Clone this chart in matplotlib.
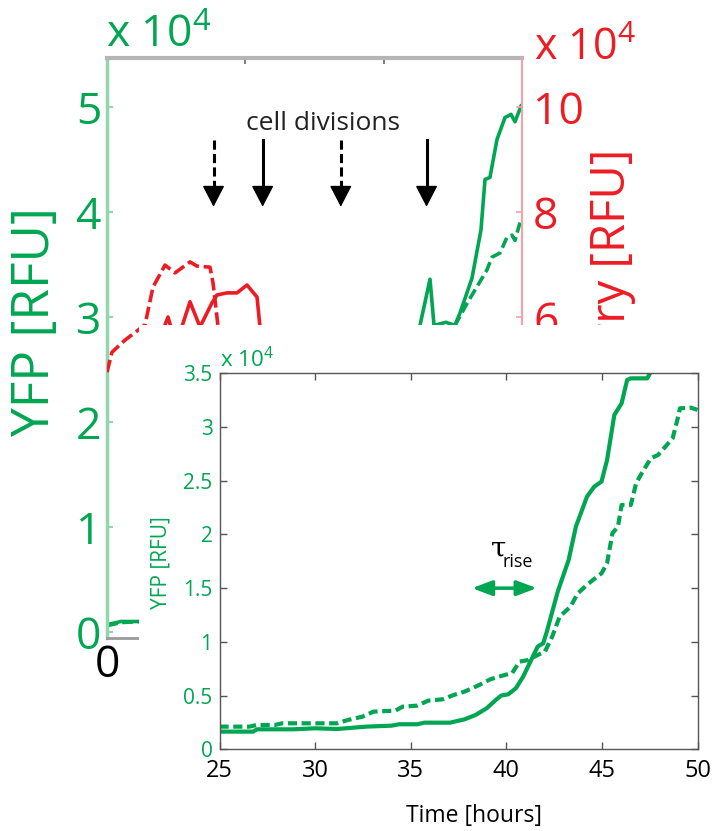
import matplotlib.pyplot as plt
from matplotlib.patches import Rectangle
from matplotlib.ticker import FuncFormatter

plt.rcParams['font.family'] = ['Open Sans', 'DejaVu Sans']
plt.rcParams['mathtext.fontset'] = 'custom'
plt.rcParams['mathtext.rm'] = 'Open Sans'
plt.rcParams['mathtext.default'] = 'regular'

GREEN = '#00a651'
RED = '#ed1c24'

# full experiment, time in hours, fluorescence in units of 10^4 RFU
yfp_t = [0, 2, 5, 20, 40, 44.5, 45.25, 46.7, 47.28, 49.01, 50.31, 51.04, 52.77,
         54.07, 54.65, 55.37, 56.38, 57.54, 58.41, 58.99, 59.86]
yfp_solid = [0.07, 0.1, 0.1, 0.2, 0.8, 2.5, 2.92, 3.36, 2.92, 2.95, 2.92, 3.04, 3.37,
             3.83, 4.31, 4.33, 4.69, 4.90, 4.93, 4.86, 5.01]
yfp_d_t = [0, 2, 5, 20, 40, 48, 50.31, 52.05, 53.5, 54.94, 55.66, 56.82, 57.83,
           58.55, 58.99, 59.71]
yfp_dashed = [0.06, 0.09, 0.1, 0.25, 1.0, 2.4, 2.92, 3.13, 3.29, 3.45, 3.57, 3.61, 3.76,
              3.78, 3.73, 3.90]

mch_d_t = [0, 0.72, 2.6, 5.49, 6.65, 8.39, 9.83, 12.0, 13.01, 14.89, 15.33, 15.9,
           16.19, 17.06]
mch_dashed = [4.95, 5.33, 5.56, 5.85, 6.57, 6.99, 6.84, 7.05, 6.97, 6.95, 6.65, 6.0,
              5.66, 4.80]
mch_s_t = [6.22, 8.1, 8.82, 9.98, 12.0, 13.45, 14.46, 15.18, 15.9, 17.35, 18.8, 20.24,
           21.69, 22.12, 22.55]
mch_solid = [5.18, 5.75, 6.0, 5.47, 6.29, 5.81, 6.08, 6.27, 6.42, 6.46, 6.46, 6.61,
             6.38, 5.81, 5.18]

div_dashed = [15.4, 33.8]
div_solid = [22.5, 46.2]

# onset of YFP rise, RFU
rise_s_t = [25, 26.76, 26.95, 28.85, 30, 31.15, 32.67, 34.0, 34.39, 35.34, 35.72, 37.06,
            37.82, 38.4, 38.97, 39.45, 39.73, 40.1, 40.5, 40.88, 41.26, 41.64, 41.93,
            42.12, 42.69, 43.26, 43.64, 44.22, 44.6, 44.98, 45.27, 45.65, 46.03, 46.32,
            46.51, 47.37, 47.56, 47.9]
rise_solid = [1645, 1645, 1860, 1860, 1955, 1890, 2110, 2200, 2330, 2330, 2480, 2480,
              2790, 3200, 3815, 4590, 5000, 5120, 5680, 6760, 8160, 9560, 9870,
              10950, 14680, 17620, 20730, 23520, 24450, 24920, 26930, 31120, 32200, 34380,
              34530, 34530, 35150, 36500]
rise_d_t = [25, 26.56, 26.95, 27.9, 28.28, 31.15, 31.72, 32.48, 33.05, 34.2, 34.58, 35.34,
            35.92, 36.68, 37.25, 37.82, 38.59, 39.16, 39.92, 40.3, 40.69, 41.16, 41.64,
            42.02, 42.4, 42.79, 43.36, 43.74, 44.31, 44.98, 45.27, 45.55, 45.84, 46.03,
            46.51, 46.79, 47.08, 47.56, 47.94, 48.32, 48.7, 48.99, 49.08, 49.66, 50]
rise_dashed = [2110, 2110, 2265, 2265, 2420, 2420, 2730, 3040, 3505, 3600, 3970, 4065,
               4530, 4655, 5060, 5370, 5990, 6515, 6920, 7075, 8160, 8315, 8780,
               9090, 10490, 12350, 13280, 14520, 15450, 16380, 17310, 20110, 20730, 22740,
               22740, 24760, 25690, 27090, 27400, 28170, 28950, 30970, 31740, 31800, 31590]

W, H = 712, 831
fig = plt.figure(figsize=(W / 100, H / 100), dpi=100)


def fx(x):
    return x / W


def fy(y):
    return 1 - y / H


# ---- background: whole time course ----
ax = fig.add_axes([fx(107), fy(638), (522 - 107) / W, (638 - 58) / H])
ax2 = ax.twinx()

ax.plot(yfp_t, yfp_solid, color=GREEN, lw=2.6)
ax.plot(yfp_d_t, yfp_dashed, color=GREEN, lw=2.6, ls=(0, (3, 1.3)))
ax2.plot(mch_s_t, mch_solid, color=RED, lw=2.6)
ax2.plot(mch_d_t, mch_dashed, color=RED, lw=2.6, ls=(0, (3.5, 1.3)))

ax.set_xlim(0, 60)
ax.set_ylim(-0.057, 5.467)
ax2.set_ylim(-0.114, 10.934)
ax.set_xticks([0, 20, 40, 60], ['0', '', '', ''])
ax.set_yticks(range(6))
ax2.set_yticks(range(0, 11, 2), ['', '', '', '6', '8', '10'])

ax.spines['right'].set_visible(False)
for s in ['left', 'top', 'bottom']:
    ax2.spines[s].set_visible(False)
ax.spines['left'].set_color('#93d6ab')
ax.spines['left'].set_linewidth(2.5)
ax.spines['top'].set_color('#b5b5b5')
ax.spines['top'].set_linewidth(3)
ax.spines['bottom'].set_color('#9a9a9a')
ax.spines['bottom'].set_linewidth(2)
ax2.spines['right'].set_color('#f7a1a6')
ax2.spines['right'].set_linewidth(1.5)

ax.tick_params(axis='y', direction='in', length=4, width=1.5, color='#93d6ab',
               labelcolor=GREEN, labelsize=32, pad=4)
ax.tick_params(axis='x', direction='in', top=True, length=4, width=1.2, color='#666666',
               labelsize=32, pad=4)
ax2.tick_params(axis='y', direction='in', length=4, width=1.2, color='#f7a1a6',
                labelcolor=RED, labelsize=32, pad=8)

fig.text(fx(36), fy(322), 'YFP [RFU]', rotation=90, ha='center', va='center',
         color=GREEN, fontsize=37)
fig.text(fx(612), fy(310), 'mCherry [RFU]', rotation=90, ha='center', va='center',
         color=RED, fontsize=34, zorder=0.5)
fig.text(fx(106), fy(48), r'x 10$^4$', ha='left', va='baseline', color=GREEN, fontsize=32)
fig.text(fx(534), fy(60), r'x 10$^4$', ha='left', va='baseline', color=RED, fontsize=31)

# cell division markers
fig.text(fx(323), fy(130), 'cell divisions', ha='center', va='baseline', fontsize=19,
         color='#222222')
y_top, y_tip, head = 4.69, 4.05, 0.17
for t in div_dashed + div_solid:
    ls = (0, (3, 1.4)) if t in div_dashed else '-'
    ax.plot([t, t], [y_top, y_tip + head], color='black', lw=2.2, ls=ls)
    ax.annotate('', xy=(t, y_tip), xytext=(t, y_tip + head + 0.02),
                arrowprops=dict(arrowstyle='-|>,head_length=1.35,head_width=0.7',
                                color='black', lw=1, shrinkA=0, shrinkB=0,
                                mutation_scale=10))

# white panel behind the zoomed plot
fig.add_artist(Rectangle((fx(139), 0), 1 - fx(139), fy(325), transform=fig.transFigure,
                         facecolor='white', edgecolor='none', zorder=1))

# ---- zoomed plot: onset of YFP rise ----
axi = fig.add_axes([fx(219.5), fy(749.3), 478 / W, 376 / H], zorder=2)
axi.plot(rise_s_t, rise_solid, color=GREEN, lw=3)
axi.plot(rise_d_t, rise_dashed, color=GREEN, lw=3, ls=(0, (2.2, 1.1)))
axi.set_xlim(25, 50)
axi.set_ylim(0, 35000)
axi.set_xticks(range(25, 51, 5))
axi.set_yticks(range(0, 35001, 5000))
axi.yaxis.set_major_formatter(FuncFormatter(lambda v, _: f'{v / 1e4:g}'))
for s in axi.spines.values():
    s.set_color('#555555')
    s.set_linewidth(1)
axi.tick_params(direction='in', top=True, right=True, length=5, width=1, color='#555555')
axi.tick_params(axis='y', labelcolor=GREEN, labelsize=15, pad=5)
axi.tick_params(axis='x', labelsize=17, pad=7)

fig.text(fx(220), fy(367), r'x 10$^4$', ha='left', va='baseline', color=GREEN, fontsize=16)
fig.text(fx(161), fy(563), 'YFP [RFU]', rotation=90, ha='center', va='center',
         color=GREEN, fontsize=15)
fig.text(fx(474), fy(822), 'Time [hours]', ha='center', va='baseline', fontsize=16.5)

fig.text(fx(491), fy(557), '\u03c4', ha='left', va='baseline', fontsize=20,
         family='DejaVu Serif')
fig.text(fx(503), fy(567), 'rise', ha='left', va='baseline', fontsize=13)
axi.annotate('', xy=(41.6, 15000), xytext=(38.2, 15000),
             arrowprops=dict(arrowstyle='<|-|>,head_length=1.2,head_width=0.45',
                             color=GREEN, lw=2.5, shrinkA=0, shrinkB=0,
                             mutation_scale=10))

fig.savefig('out.png', dpi=100)
